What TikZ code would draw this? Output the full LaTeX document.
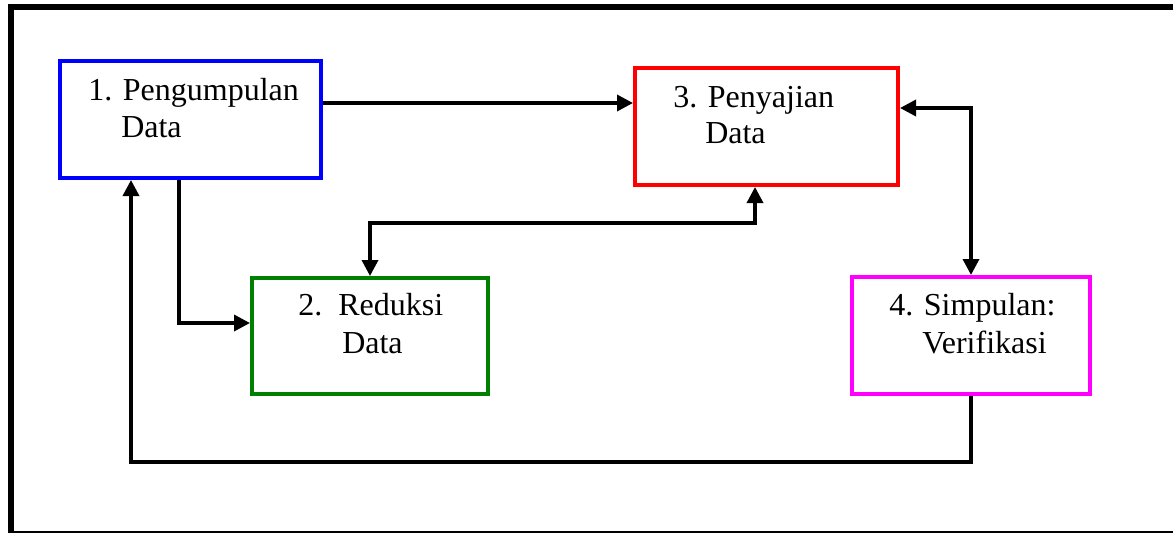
\documentclass[tikz,border=0pt]{standalone}
\usepackage{fontspec}
\setmainfont{Liberation Serif}
\newfontfamily\timesfont{Liberation Serif}
\usetikzlibrary{fit,arrows.meta}
\definecolor{boxblue}{RGB}{0,0,255}
\definecolor{boxred}{RGB}{255,0,0}
\definecolor{boxgreen}{RGB}{0,128,0}
\definecolor{boxmag}{RGB}{255,0,255}
\tikzset{
  stagebox/.style={draw=#1, line width=3pt, inner sep=0pt, rectangle},
  arr/.style={line width=2.6pt, -{Triangle[length=12pt,width=12pt]}},
  darr/.style={line width=2.6pt, {Triangle[length=12pt,width=12pt]}-{Triangle[length=12pt,width=12pt]}},
  lbl/.style={anchor=base west, inner sep=0pt, font=\timesfont\fontsize{24}{29}\selectfont}
}
\begin{document}
\begin{tikzpicture}[x=0.75pt,y=-0.75pt]
\useasboundingbox (0,0) rectangle (1173,533);
% outer frame
\draw[line width=4.5pt] (11,533) -- (11,6.5) -- (1173,6.5);
\draw[line width=1.1pt] (11,532) -- (1173,532);
% boxes
\node[stagebox=boxblue, fit={(60,61) (321,178)}] (b1) {};
\node[stagebox=boxgreen, fit={(252,278) (488,394)}] (b2) {};
\node[stagebox=boxred, fit={(635,68) (898,185)}] (b3) {};
\node[stagebox=boxmag, fit={(852,277) (1090,394)}] (b4) {};
% labels
\node[lbl] (t1a) at (88,100) {1. Pengumpulan};
\node[lbl] (t1b) at (121,137) {Data};
\node[lbl] (t2a) at (298,315) {2.\ \ Reduksi};
\node[lbl] (t2b) at (342,353) {Data};
\node[lbl] (t3a) at (673,107) {3. Penyajian};
\node[lbl] (t3b) at (705,143) {Data};
\node[lbl] (t4a) at (889,315) {4. Simpulan:};
\node[lbl] (t4b) at (922,353) {Verifikasi};
% helper coordinates
\coordinate (h13) at (0,103);
\coordinate (v12) at (179,0);
\coordinate (h12) at (0,323);
\coordinate (v23a) at (370,0);
\coordinate (h23) at (0,223);
\coordinate (v23b) at (755,0);
\coordinate (h34) at (0,108);
\coordinate (v34) at (971,0);
\coordinate (h41) at (0,462);
\coordinate (v41) at (131,0);
% connectors
\draw[arr] (b1.east |- h13) -- (b3.west |- h13);
\draw[arr] (b1.south -| v12) -- (v12 |- h12) -- (b2.west |- h12);
\draw[darr] (b2.north -| v23a) -- (v23a |- h23) -- (v23b |- h23) -- (b3.south -| v23b);
\draw[darr] (b3.east |- h34) -- (v34 |- h34) -- (b4.north -| v34);
\draw[arr] (b4.south -| v34) -- (v34 |- h41) -- (v41 |- h41) -- (b1.south -| v41);
\end{tikzpicture}
\end{document}
